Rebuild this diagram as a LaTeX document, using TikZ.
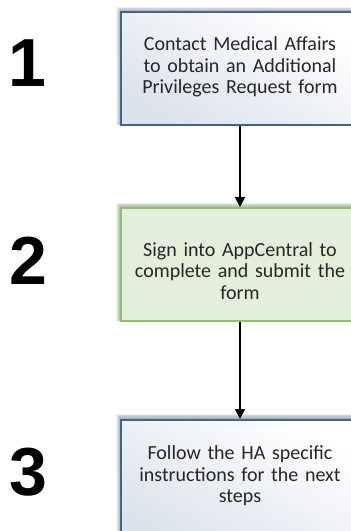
\documentclass[tikz,border=0pt]{standalone}
\usepackage{fontspec}
\setmainfont{Carlito}
\newfontfamily\numfont{Liberation Sans}
\usetikzlibrary{arrows.meta,positioning}
\definecolor{boxblue}{HTML}{3B6593}
\definecolor{boxgreen}{HTML}{8DC26C}
\definecolor{fillgreen}{HTML}{E3EFDA}
\definecolor{fillblue}{HTML}{DCE3EC}
\definecolor{txt}{HTML}{262626}
\tikzset{
  stepbox/.style={draw, line width=1.8pt, minimum width=238pt, minimum height=114pt, inner sep=0pt},
  bluebox/.style={stepbox, draw=boxblue, top color=white, bottom color=fillblue, shading angle=-30},
  greenbox/.style={stepbox, draw=boxgreen, fill=fillgreen},
  plaintext/.style={text width=226pt, align=center, font=\fontsize{20}{21.5}\selectfont, text=txt, inner sep=0pt},
  numlbl/.style={font=\numfont\bfseries\fontsize{68}{68}\selectfont, text=black, inner sep=0pt},
  flow/.style={line width=1.5pt, -{Triangle[width=10pt,length=10pt]}},
}
\newcommand{\softshadow}[4]{%
  \foreach \k in {1,...,6} {
    \fill[black, opacity=0.06] ({#1-\k*0.8},{#2-\k*0.9}) rectangle ({#3},{#4});
  }
}
\begin{document}
\begin{tikzpicture}[x=1pt,y=-1pt]
\useasboundingbox (0,0) rectangle (351,531);
% shadows
\softshadow{121}{12}{360}{125}
\softshadow{121}{208}{360}{321}
\softshadow{121}{419}{360}{545}
\node[bluebox, minimum height=113pt] (b1) at (240,68.5) {};
\node[greenbox, minimum height=113pt] (b2) at (240,264.5) {};
\node[bluebox, minimum height=126pt, anchor=north] (b3) at (240,419) {};
\node[plaintext] (t1) at (240,67) {Contact Medical Affairs\\to obtain an Additional\\Privileges Request form};
\node[plaintext] (t2) at (240,271) {Sign into AppCentral to\\complete and submit the\\form};
\node[plaintext] (t3) at (240,476) {Follow the HA specific\\instructions for the next\\steps};
\draw[flow] (b1.south) -- (b2.north);
\draw[flow] (b2.south) -- (b3.north);
\node[numlbl] (n1) at (27,63) {1};
\node[numlbl] (n2) at (28,261) {2};
\node[numlbl] (n3) at (28,472) {3};
\end{tikzpicture}
\end{document}
